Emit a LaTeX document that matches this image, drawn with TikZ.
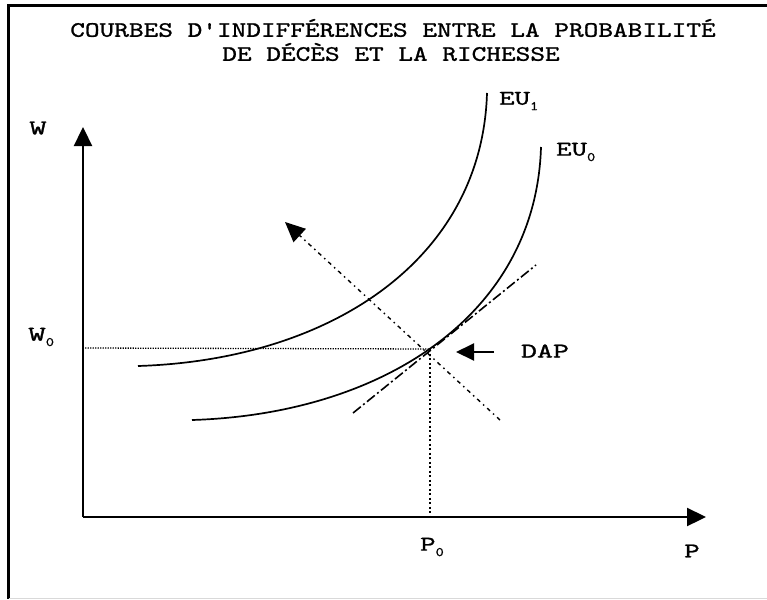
\documentclass[tikz,border=0pt]{standalone}
\usepackage{fontspec}
\usepackage{graphicx}
\usetikzlibrary{arrows.meta}
\newfontfamily\labfont[FakeBold=1]{lmmono10-regular.otf}
\newcommand{\wide}[2]{\scalebox{#1}[1]{#2}}
\newcommand{\mysub}[1]{\raisebox{-0.6ex}{\fontsize{13}{13}\selectfont\wide{1.2}{#1}}}
\tikzset{
  axis/.style={line width=2.3pt,-{Triangle[length=19pt,width=18pt]}},
  curve/.style={line width=1.7pt},
  lab/.style={font=\labfont\fontsize{21}{21}\selectfont, inner sep=0pt},
  tit/.style={font=\labfont\fontsize{22}{22}\selectfont, inner sep=0pt},
  wline/.style={line width=1.3pt, dash pattern=on 1.3pt off 1.2pt},
  pline/.style={line width=1.3pt, dash pattern=on 2pt off 2.5pt},
  tangent/.style={line width=1.6pt, dash pattern=on 10pt off 3pt on 2pt off 3pt},
  normal/.style={line width=1.4pt, dash pattern=on 4pt off 4pt on 1.5pt off 4pt, -{Triangle[length=20pt,width=18pt]}},
  daparrow/.style={line width=2pt, -{Triangle[length=18pt,width=17pt]}}
}
\begin{document}
\begin{tikzpicture}[x=1pt,y=-1pt]
\useasboundingbox (0,0) rectangle (767,599);
% frame
\draw[line width=3pt] (767,5.5) -- (8.5,5.5) -- (8.5,599);
\draw[line width=1pt, black!15] (8.5,598) -- (767,598);
% title
\node[tit] (t1) at (393,28) {\wide{1.27}{COURBES D'INDIFFÉRENCES ENTRE LA PROBABILITÉ}};
\node[tit] (t2) at (391,52) {\wide{1.27}{DE DÉCÈS ET LA RICHESSE}};
% axes
\coordinate (O) at (83,517);
\coordinate (Ytip) at (83,127);
\coordinate (Xtip) at (706,517);
\draw[axis] (O) -- (Ytip);
\draw[axis] (O) -- (Xtip);
% labels
\node[lab] (W) at (38,128) {\wide{1.6}{W}};
\node[lab, anchor=west] (W0) at (28,337) {\wide{1.6}{W}\mysub{0}};
\node[lab, anchor=west] (P0) at (420,547) {\wide{1.4}{P}\mysub{0}};
\node[lab] (P) at (692,551) {\wide{1.4}{P}};
\node[lab] (DAP) at (545,351) {\wide{1.45}{DAP}};
\node[lab, anchor=west] (EU1) at (499,101) {\wide{1.4}{EU}\mysub{1}};
\node[lab, anchor=west] (EU0) at (556,152) {\wide{1.4}{EU}\mysub{0}};
% key points
\coordinate (E) at (430,349);
\coordinate (Wax) at (85,348);
\coordinate (Pax) at (430,517);
% reference lines
\draw[wline] (Wax) -- (E);
\draw[pline] (E) -- (Pax);
% curves
\draw[curve] (138,366) .. controls (330,360) and (482,260) .. (487,93);
\draw[curve] (192,420) .. controls (384,414) and (536,314) .. (541,147);
% tangent
\coordinate (tA) at (353,413);
\coordinate (tB) at (536,265);
\draw[tangent] (tA) -- (tB);
% normal with arrow
\coordinate (nA) at (500,420);
\coordinate (nB) at (285,222);
\draw[normal] (nA) -- (nB);
% DAP arrow
\coordinate (dA) at (494,352);
\coordinate (dB) at (456,352);
\draw[daparrow] (dA) -- (dB);
\end{tikzpicture}
\end{document}
